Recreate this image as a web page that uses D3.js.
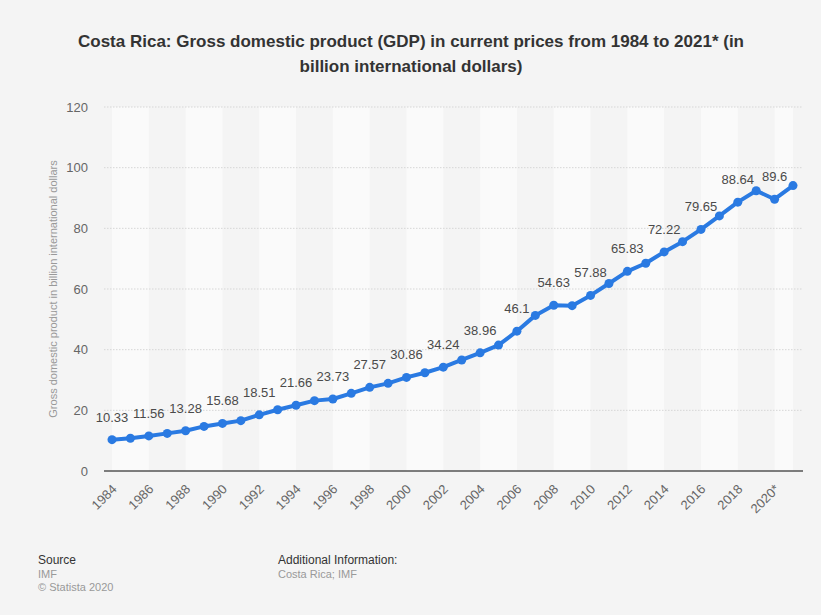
<!DOCTYPE html>
<html>
<head>
<meta charset="utf-8">
<script src="https://cdn.jsdelivr.net/npm/d3@7"></script>
<style>
  html, body { margin: 0; padding: 0; background: #f4f4f4; }
  svg { display: block; font-family: "Liberation Sans", Arial, Helvetica, sans-serif; }
</style>
</head>
<body>
<svg id="chart" width="821" height="615"></svg>
<script>
const years = [1984,1985,1986,1987,1988,1989,1990,1991,1992,1993,1994,1995,1996,1997,1998,1999,2000,2001,2002,2003,2004,2005,2006,2007,2008,2009,2010,2011,2012,2013,2014,2015,2016,2017,2018,2019,2020,2021];
const gdp = [10.33,10.8,11.56,12.4,13.28,14.7,15.68,16.6,18.51,20.2,21.66,23.2,23.73,25.6,27.57,28.9,30.86,32.4,34.24,36.6,38.96,41.5,46.1,51.3,54.63,54.5,57.88,61.8,65.83,68.5,72.22,75.6,79.65,84.1,88.64,92.4,89.6,94.1];
const labelYears = [1984,1986,1988,1990,1992,1994,1996,1998,2000,2002,2004,2006,2008,2010,2012,2014,2016,2018,2020];
const xTickLabels = ["1984","1986","1988","1990","1992","1994","1996","1998","2000","2002","2004","2006","2008","2010","2012","2014","2016","2018","2020*"];
const yTicks = [0,20,40,60,80,100,120];
const titleLines = ["Costa Rica: Gross domestic product (GDP) in current prices from 1984 to 2021* (in", "billion international dollars)"];
const yAxisTitle = "Gross domestic product in billion international dollars";

const svg = d3.select("#chart");
svg.append("rect").attr("width", 821).attr("height", 615).attr("fill", "#f4f4f4");

const plotLeft = 104, plotRight = 803;
const x = d3.scaleLinear().domain([1984, 2021]).range([112, 793]);
const y = d3.scaleLinear().domain([0, 120]).range([471, 107]);

// Title
svg.append("g").selectAll("text").data(titleLines).join("text")
  .attr("x", 411).attr("y", (d, i) => 47 + i * 25)
  .attr("text-anchor", "middle")
  .attr("font-size", "17px").attr("font-weight", "bold").attr("fill", "#333")
  .text(d => d);

// Alternating bands
const bandStarts = d3.range(1984, 2021, 4);
svg.append("g").selectAll("rect").data(bandStarts).join("rect")
  .attr("x", d => x(d))
  .attr("width", d => x(Math.min(d + 2, 2021)) - x(d))
  .attr("y", y(120)).attr("height", y(0) - y(120))
  .attr("fill", "#fafafa");

// Grid lines
svg.append("g").selectAll("line").data(yTicks.filter(t => t > 0)).join("line")
  .attr("x1", plotLeft).attr("x2", plotRight)
  .attr("y1", d => y(d)).attr("y2", d => y(d))
  .attr("stroke", "#d6d6d6").attr("stroke-width", 1).attr("stroke-dasharray", "1.5,1.5");

// Y axis
const yAxis = d3.axisLeft(y).tickValues(yTicks).tickSize(0).tickPadding(0);
const gy = svg.append("g").attr("transform", `translate(88,0)`).call(yAxis);
gy.select(".domain").remove();
gy.selectAll("text").attr("font-size", "13px").attr("fill", "#666")
  .attr("font-family", "Liberation Sans, Arial, sans-serif");

// X axis
const xAxis = d3.axisBottom(x).tickValues(labelYears).tickSize(0).tickFormat((d, i) => xTickLabels[i]);
const gx = svg.append("g").attr("transform", `translate(0,${y(0)})`).call(xAxis);
gx.select(".domain").remove();
gx.selectAll("text")
  .attr("font-size", "13px").attr("fill", "#666")
  .attr("font-family", "Liberation Sans, Arial, sans-serif")
  .attr("text-anchor", "end")
  .attr("dy", null).attr("y", 0)
  .attr("transform", "translate(5,19) rotate(-45)");

// Baseline
svg.append("line").attr("x1", plotLeft).attr("x2", plotRight)
  .attr("y1", y(0)).attr("y2", y(0)).attr("stroke", "#555").attr("stroke-width", 1.5);

// Y axis title
svg.append("text")
  .attr("transform", `translate(57,${(y(0) + y(120)) / 2}) rotate(-90)`)
  .attr("text-anchor", "middle").attr("font-size", "11px").attr("fill", "#999")
  .text(yAxisTitle);

// Line
const data = years.map((yr, i) => ({ yr, v: gdp[i] }));
svg.append("path").datum(data)
  .attr("fill", "none").attr("stroke", "#2a7ae2").attr("stroke-width", 4)
  .attr("stroke-linejoin", "round").attr("stroke-linecap", "round")
  .attr("d", d3.line().x(d => x(d.yr)).y(d => y(d.v)));

svg.append("g").selectAll("circle").data(data).join("circle")
  .attr("cx", d => x(d.yr)).attr("cy", d => y(d.v)).attr("r", 4.5)
  .attr("fill", "#2a7ae2");

// Data labels
svg.append("g").selectAll("text").data(data.filter(d => labelYears.includes(d.yr))).join("text")
  .attr("x", d => x(d.yr)).attr("y", d => y(d.v) - 18)
  .attr("text-anchor", "middle").attr("font-size", "13px").attr("fill", "#4a4a4a")
  .text(d => String(d.v));

// Footer
const foot = svg.append("g").attr("font-size", "11px");
foot.append("text").attr("x", 38).attr("y", 564).attr("fill", "#333").attr("font-size", "12px").text("Source");
foot.append("text").attr("x", 38).attr("y", 578).attr("fill", "#999").text("IMF");
foot.append("text").attr("x", 38).attr("y", 591).attr("fill", "#999").text("© Statista 2020");
foot.append("text").attr("x", 278).attr("y", 564).attr("fill", "#333").attr("font-size", "12px").text("Additional Information:");
foot.append("text").attr("x", 278).attr("y", 578).attr("fill", "#999").text("Costa Rica; IMF");
</script>
</body>
</html>
